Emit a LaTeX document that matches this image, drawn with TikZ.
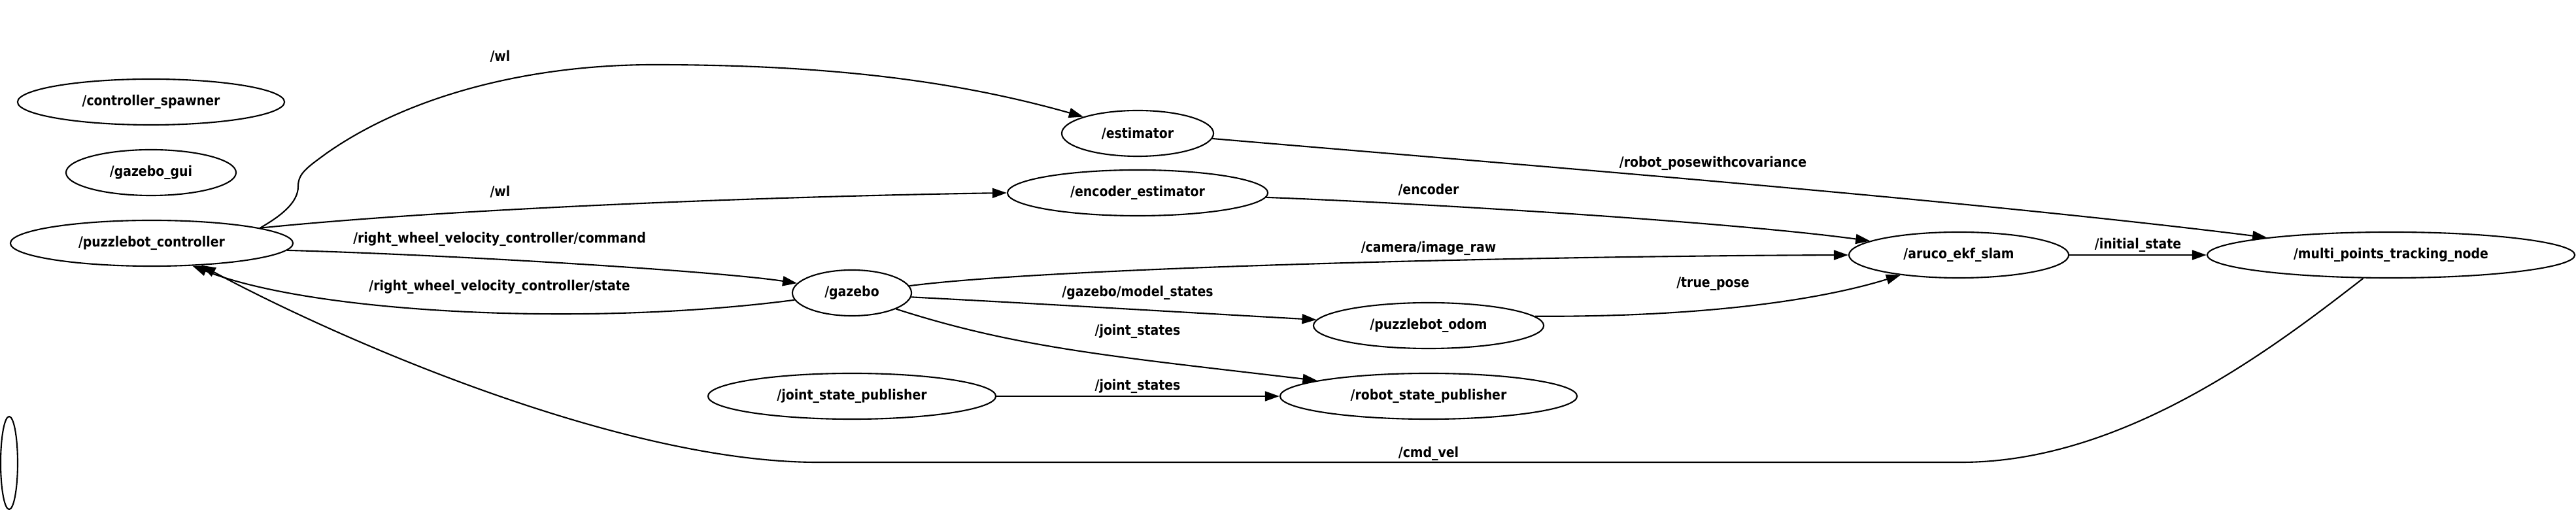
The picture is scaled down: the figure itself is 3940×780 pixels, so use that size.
\documentclass[tikz,border=0pt]{standalone}
\usepackage{fontspec}
\setmainfont{DejaVu Sans}[FakeStretch=0.88]
\usetikzlibrary{shapes.geometric, arrows.meta}
\tikzset{
  rosnode/.style={
    ellipse, draw, line width=0.6pt,
    inner sep=0pt, minimum height=0.7cm,
    font=\fontsize{6.1}{7}\selectfont\bfseries,
  },
  topic/.style={inner sep=0pt, font=\fontsize{6.1}{7}\selectfont\bfseries},
  edge/.style={-{Triangle[length=0.22cm, width=0.15cm]}, line width=0.6pt},
}

\begin{document}
\begin{tikzpicture}[x=0.01cm, y=-0.01cm]
  \useasboundingbox (0,0) rectangle (3940,780);

  % nodes
  \node[rosnode, minimum width=4.08cm] (spawner) at (231,156) {/controller\_spawner};
  \node[rosnode, minimum width=2.6cm] (gui) at (231,264) {/gazebo\_gui};
  \node[rosnode, minimum width=4.32cm] (pbctrl) at (232,372) {/puzzlebot\_controller};
  \node[rosnode, minimum width=0.26cm, minimum height=1.42cm] (blank) at (14,708) {};
  \node[rosnode, minimum width=2.32cm] (estimator) at (1740,204) {/estimator};
  \node[rosnode, minimum width=3.98cm] (encest) at (1740,295) {/encoder\_estimator};
  \node[rosnode, minimum width=1.82cm] (gazebo) at (1303,448) {/gazebo};
  \node[rosnode, minimum width=4.4cm] (jsp) at (1303,606) {/joint\_state\_publisher};
  \node[rosnode, minimum width=3.52cm] (odom) at (2185,498) {/puzzlebot\_odom};
  \node[rosnode, minimum width=4.54cm] (rsp) at (2185,606) {/robot\_state\_publisher};
  \node[rosnode, minimum width=3.36cm] (aruco) at (2996,390) {/aruco\_ekf\_slam};
  \node[rosnode, minimum width=5.62cm] (mptn) at (3657,390) {/multi\_points\_tracking\_node};

  % topics
  \node[topic] (twl1) at (765,86) {/wl};
  \node[topic] (twl2) at (765,293) {/wl};
  \node[topic] (tcmd) at (764,366) {/right\_wheel\_velocity\_controller/command};
  \node[topic] (tstate) at (764,439) {/right\_wheel\_velocity\_controller/state};
  \node[topic] (tmodel) at (1740,448) {/gazebo/model\_states};
  \node[topic] (tjs1) at (1740,507) {/joint\_states};
  \node[topic] (tjs2) at (1740,591) {/joint\_states};
  \node[topic] (tpose) at (2620,250) {/robot\_posewithcovariance};
  \node[topic] (tenc) at (2185,290) {/encoder};
  \node[topic] (tcam) at (2185,380) {/camera/image\_raw};
  \node[topic] (ttrue) at (2620,434) {/true\_pose};
  \node[topic] (tvel) at (2185,694) {/cmd\_vel};
  \node[topic] (tinit) at (3270,375) {/initial\_state};

  % edges
  \draw[edge] (pbctrl.8) .. controls (430,330) and (456,310) .. (456,285)
    .. controls (456,265) and (470,256) .. (500,234)
    .. controls (620,150) and (800,99) .. (1000,99)
    .. controls (1250,99) and (1450,120) .. (estimator.163);
  \draw[edge] (pbctrl.8) .. controls (700,318) and (1200,300) .. (encest.west);
  \draw[edge] (pbctrl.-3) .. controls (700,390) and (1100,415) .. (gazebo.170);
  \draw[edge] (gazebo.187) .. controls (900,500) and (480,480) .. (pbctrl.-29);
  \draw[edge] (mptn.220) .. controls (3480,530) and (3250,707) .. (3000,707)
    -- (1250,707) .. controls (950,707) and (520,520) .. (pbctrl.-24);
  \draw[edge] (estimator.-4) .. controls (2300,250) and (3000,305) .. (mptn.172);
  \draw[edge] (encest.-2) .. controls (2200,312) and (2650,340) .. (aruco.171);
  \draw[edge] (gazebo.7) .. controls (1600,410) and (2300,392) .. (aruco.west);
  \draw[edge] (gazebo.-4) .. controls (1600,465) and (1850,480) .. (odom.177);
  \draw[edge] (gazebo.-20) .. controls (1555,532) and (1700,545) .. (rsp.172);
  \draw[edge] (jsp) -- (rsp);
  \draw[edge] (odom.5) .. controls (2600,485) and (2780,460) .. (aruco.199);
  \draw[edge] (aruco) -- (mptn);

\end{tikzpicture}
\end{document}
